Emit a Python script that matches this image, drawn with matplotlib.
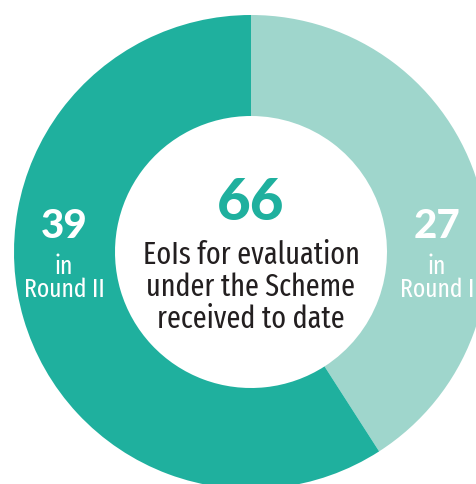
import matplotlib
matplotlib.use("Agg")
import matplotlib.pyplot as plt

labels = ["Round I", "Round II"]
values = [27, 39]
total = sum(values)
colors = ["#9fd6cc", "#1fb09e"]
center_text = "EoIs for evaluation\nunder the Scheme\nreceived to date"

W, H = 477, 484
fig = plt.figure(figsize=(W / 100, H / 100), dpi=100)
ax = fig.add_axes([0, 0, 1, 1])

cx, cy = 251, H - 252
R, r = 237, 136
ax.pie(values, colors=colors, startangle=90, counterclock=False,
       center=(cx, cy), radius=R, wedgeprops=dict(width=R - r, linewidth=0),
       frame=True)
ax.set_xlim(0, W)
ax.set_ylim(0, H)
ax.set_aspect("equal")
ax.axis("off")

narrow = ["Fira Sans Extra Condensed", "Fira Sans Condensed", "Asap Condensed", "DejaVu Sans"]

ax.text(cx, H - 203, str(total), ha="center", va="center", fontsize=42,
        fontweight="black", family="Lato", color="#1fb09e")
ax.text(cx, H - 287, center_text, ha="center", va="center", fontsize=22,
        family=narrow, fontweight="normal", color="#231f20", linespacing=1.08)

ax.text(64, H - 227, str(values[1]), ha="center", va="center", fontsize=29,
        fontweight="black", family="Lato", color="white")
ax.text(64, H - 278, "in\n" + labels[1], ha="center", va="center", fontsize=18.5,
        family=narrow, fontweight="normal", color="white", linespacing=0.9)
ax.text(437, H - 227, str(values[0]), ha="center", va="center", fontsize=29,
        fontweight="black", family="Lato", color="white")
ax.text(437, H - 278, "in\n" + labels[0], ha="center", va="center", fontsize=18.5,
        family=narrow, fontweight="normal", color="white", linespacing=0.9)

fig.savefig("out.png", dpi=100)
